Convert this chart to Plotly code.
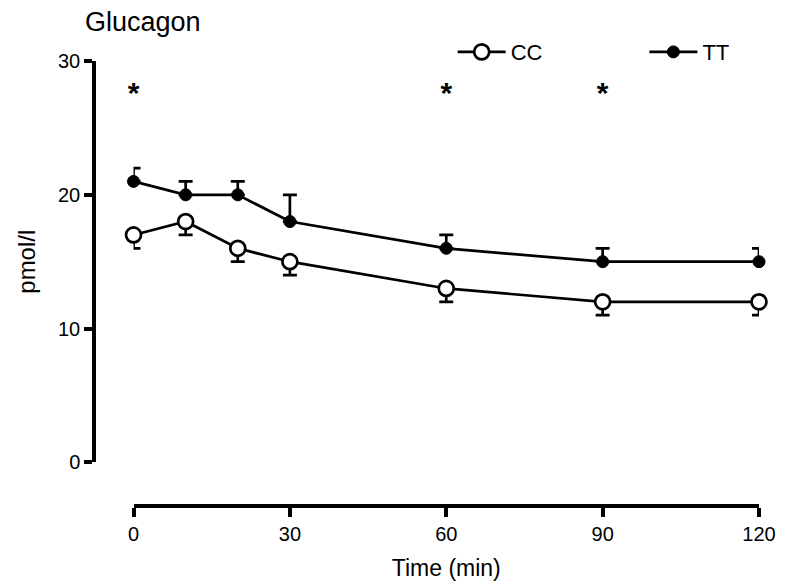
import plotly.graph_objects as go

time = [0, 10, 20, 30, 60, 90, 120]
cc_mean = [17, 18, 16, 15, 13, 12, 12]
cc_sem = [1, 1, 1, 1, 1, 1, 1]
tt_mean = [21, 20, 20, 18, 16, 15, 15]
tt_sem = [1, 1, 1, 2, 1, 1, 1]
sig_times = [0, 60, 90]
sig_y = [27.4, 27.4, 27.4]
x_ticks = [0, 30, 60, 90, 120]
y_ticks = [0, 10, 20, 30]

FONT = "Liberation Sans, Arial, sans-serif"

W, H = 788, 588
L, R, T, B = 94, W - 767, 61, H - 510
pw = W - L - R
ph = H - T - B

fig = go.Figure()
fig.add_trace(go.Scatter(
    x=time, y=cc_mean, mode="lines+markers", name="CC", legend="legend",
    line=dict(color="black", width=2.7), cliponaxis=False,
    marker=dict(symbol="circle", size=15, color="white", line=dict(color="black", width=2.7)),
    error_y=dict(type="data", array=[0]*len(cc_sem), arrayminus=cc_sem, symmetric=False,
                 color="black", thickness=2.7, width=7),
))
fig.add_trace(go.Scatter(
    x=time, y=tt_mean, mode="lines+markers", name="TT", legend="legend2",
    line=dict(color="black", width=2.7), cliponaxis=False,
    marker=dict(symbol="circle", size=12, color="black", line=dict(color="black", width=1)),
    error_y=dict(type="data", array=tt_sem, arrayminus=[0]*len(tt_sem), symmetric=False,
                 color="black", thickness=2.7, width=7),
))
fig.add_trace(go.Scatter(
    x=sig_times, y=sig_y, mode="text", text=["<b>*</b>"]*len(sig_times),
    textfont=dict(size=30, color="black", family=FONT), showlegend=False, hoverinfo="skip",
    cliponaxis=False,
))

leg_common = dict(orientation="h", yanchor="middle", xanchor="left",
                  font=dict(size=22, family=FONT), bgcolor="rgba(0,0,0,0)",
                  itemsizing="trace", itemwidth=48)
fig.update_layout(
    width=W, height=H,
    margin=dict(l=L, r=R, t=T, b=B),
    paper_bgcolor="white", plot_bgcolor="white",
    font=dict(family=FONT, color="black", size=20),
    title=dict(text="Glucagon", x=85/W, xanchor="left", y=1-22/H, yanchor="middle",
               font=dict(size=27, family=FONT)),
    showlegend=True,
    legend=dict(x=(457-L)/pw, y=1+(61-52)/ph, **leg_common),
    legend2=dict(x=(651-L)/pw, y=1+(61-52)/ph, **leg_common),
    xaxis=dict(domain=[(134-L)/pw, 1], range=[0, 120], anchor="free", position=0,
               tickvals=x_ticks, ticks="outside", ticklen=9, tickwidth=3.5, tickcolor="black",
               showline=True, linewidth=3.5, linecolor="black", showgrid=False, zeroline=False,
               title=dict(text="Time (min)", font=dict(size=23), standoff=15),
               tickfont=dict(size=20), ticklabeloverflow="allow"),
    yaxis=dict(domain=[(510-466)/ph, 1], range=[0, 30], anchor="free", position=0,
               tickvals=y_ticks, ticks="outside", ticklen=8, tickwidth=3.5, tickcolor="black",
               showline=True, linewidth=3.5, linecolor="black", showgrid=False, zeroline=False,
               title=dict(text="pmol/l", font=dict(size=24), standoff=15),
               tickfont=dict(size=20)),
)
fig.write_html("out.html", config={"displayModeBar": False},
               post_script="document.body.style.margin='0px';")
